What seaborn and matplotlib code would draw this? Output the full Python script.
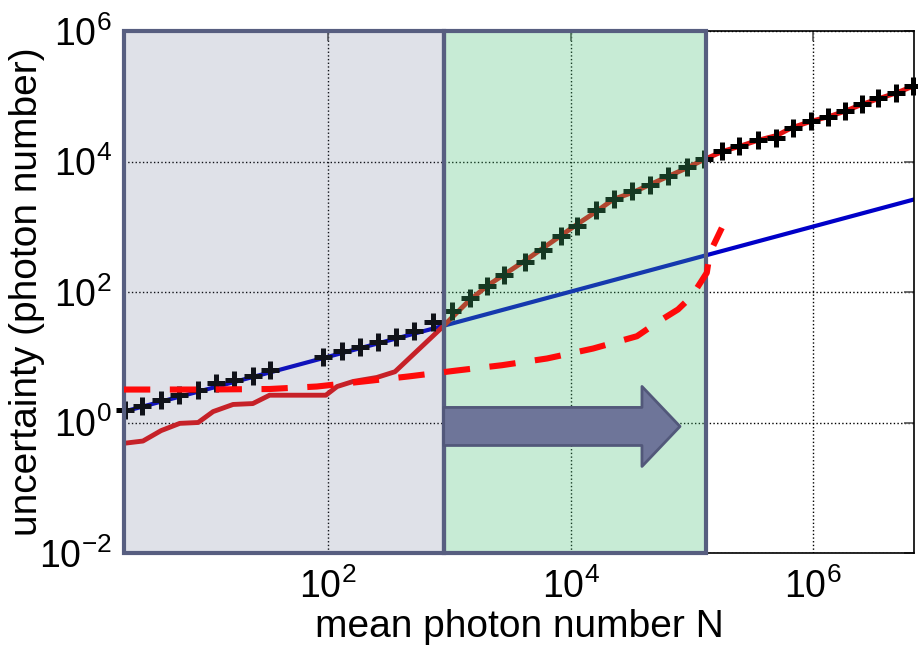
import matplotlib
matplotlib.use("Agg")
import matplotlib.pyplot as plt
import numpy as np
import pandas as pd
import seaborn as sns
from matplotlib.ticker import NullLocator

# values (log-log axes)
x_range = (2.08, 6.8e6)
y_range = (1e-2, 1e6)

# shot-noise line (straight in log-log)
blue_n = [2.08, 6.8e6]
blue_u = [1.47, 2620]

# measured uncertainty (solid red)
red_n = [2.08, 2.98, 4.2, 6.0, 8.5, 11.3, 16.5, 24, 33, 96, 119, 161, 253, 357,
         888, 1393, 2037, 2980, 4356, 5970, 8190, 11250, 16440, 22540, 32960,
         45260, 66200, 90800, 128500, 1.82e5, 2.5e5, 3.54e5, 5.02e5, 6.67e5,
         9.75e5, 1.34e6, 1.84e6, 2.52e6, 3.45e6, 4.9e6, 6.72e6]
red_u = [0.48, 0.52, 0.75, 0.97, 1.0, 1.47, 1.89, 1.95, 2.62, 2.62, 3.56, 4.25, 4.9, 6.0,
         29.6, 68, 123, 197, 315, 475, 716, 1081, 1730, 2630, 3380,
         4436, 6090, 7940, 10890, 14390, 17180, 21230, 25060, 32890,
         41590, 48530, 59160, 74840, 91550, 1.13e5, 1.43e5]

# black "+" points
mark_n = [2.12, 2.94, 4.17, 5.9, 8.5, 11.9, 16.8, 23.9, 33.3, 91.5, 130, 184, 260, 362,
          515, 738, 1047, 1483, 2037, 2831, 4220, 5900, 8300, 11380, 16220, 22850,
          32370, 45260, 64100, 90800, 1.262e5, 1.79e5, 2.47e5, 3.54e5, 4.96e5, 6.8e5,
          9.57e5, 1.34e6, 1.84e6, 2.52e6, 3.45e6, 4.83e6, 6.72e6]
mark_u = [1.58, 1.78, 2.25, 2.62, 3.13, 4.06, 4.56, 5.25, 6.49, 10.2, 12.4, 14.3, 17.0, 20.3,
          25.7, 34.4, 50.3, 81.5, 123, 185, 286, 448, 716, 1045, 1794, 2680,
          3505, 4436, 6100, 8300, 11000, 14390, 17180, 20990, 23240, 32890,
          41590, 48530, 59160, 74840, 94800, 1.13e5, 1.43e5]

# dashed red bound
dash_n = [2.08, 8.8, 33, 81, 195, 457, 1160, 2720, 6400, 15350, 35300, 51600, 77000,
          99900, 1.33e5, 1.41e5, 1.77e5]
dash_u = [3.2, 3.2, 3.26, 3.56, 4.25, 5.07, 6.27, 7.55, 9.57, 13.6, 21, 34, 54,
          86, 197, 399, 963]

gray_span = (2.08, 900)
green_span = (900, 1.31e5)
arrow_from, arrow_to, arrow_u = 900, 80000, 0.87

sns.set_theme(style="white")
plt.rcParams["font.family"] = ["Liberation Sans", "DejaVu Sans"]
plt.rcParams["mathtext.default"] = "regular"
plt.rcParams["axes.unicode_minus"] = False

fig = plt.figure(figsize=(9.18, 6.51), dpi=100)
ax = fig.add_axes([124 / 918, 1 - 553 / 651, 790 / 918, 522 / 651])

sns.lineplot(x=blue_n, y=blue_u, ax=ax, color="#0000c8", lw=3.0, zorder=2)
sns.lineplot(x=red_n, y=red_u, ax=ax, color="#e01212", lw=3.5, zorder=2)
ax.plot(mark_n, mark_u, ls="none", marker="+", ms=12.5, mew=3.6, color="black",
        zorder=2.2, clip_on=False)

ax.set_xscale("log")
ax.set_yscale("log")
ax.set_xlim(*x_range)
ax.set_ylim(*y_range)

# semi-transparent regions drawn over the data, as in the original figure
edge = "#575e80"
ax.axvspan(*gray_span, facecolor=(0.35, 0.39, 0.53, 0.19), edgecolor=edge,
           lw=3.0, zorder=3, clip_on=False)
ax.axvspan(*green_span, facecolor=(0.28, 0.75, 0.46, 0.30), edgecolor=edge,
           lw=3.0, zorder=3, clip_on=False)

dash_line, = ax.plot(dash_n, dash_u, color="#ff0a0a", lw=4.4, zorder=4)
dash_line.set_dashes((4.3, 3.2))

ax.annotate("", xy=(arrow_to, arrow_u), xytext=(arrow_from, arrow_u),
            arrowprops=dict(arrowstyle="simple,head_length=2.74,head_width=5.76,tail_width=2.74",
                            mutation_scale=10, fc="#6e7599", ec="#52587a", lw=2.0,
                            shrinkA=0, shrinkB=0),
            zorder=5)

ax.set_xticks([1e2, 1e4, 1e6])
ax.set_yticks([1e-2, 1e0, 1e2, 1e4, 1e6])
ax.xaxis.set_minor_locator(NullLocator())
ax.yaxis.set_minor_locator(NullLocator())
ax.grid(True, which="major", ls=":", color="black", lw=1.0)
ax.set_axisbelow(True)
ax.tick_params(axis="both", which="major", direction="in", length=7, width=1.2,
               color="#555555", top=True, right=True, labelsize=27, labelcolor="black")
ax.tick_params(axis="x", pad=11)
ax.tick_params(axis="y", pad=9)
for s in ax.spines.values():
    s.set_color("black")
    s.set_linewidth(1.2)

ax.set_xlabel("mean photon number N", fontsize=28, color="black", labelpad=2)
ax.set_ylabel("uncertainty (photon number)", fontsize=28, color="black")
ax.yaxis.set_label_coords(-0.1, 0.5)

fig.savefig("out.png", dpi=100)
